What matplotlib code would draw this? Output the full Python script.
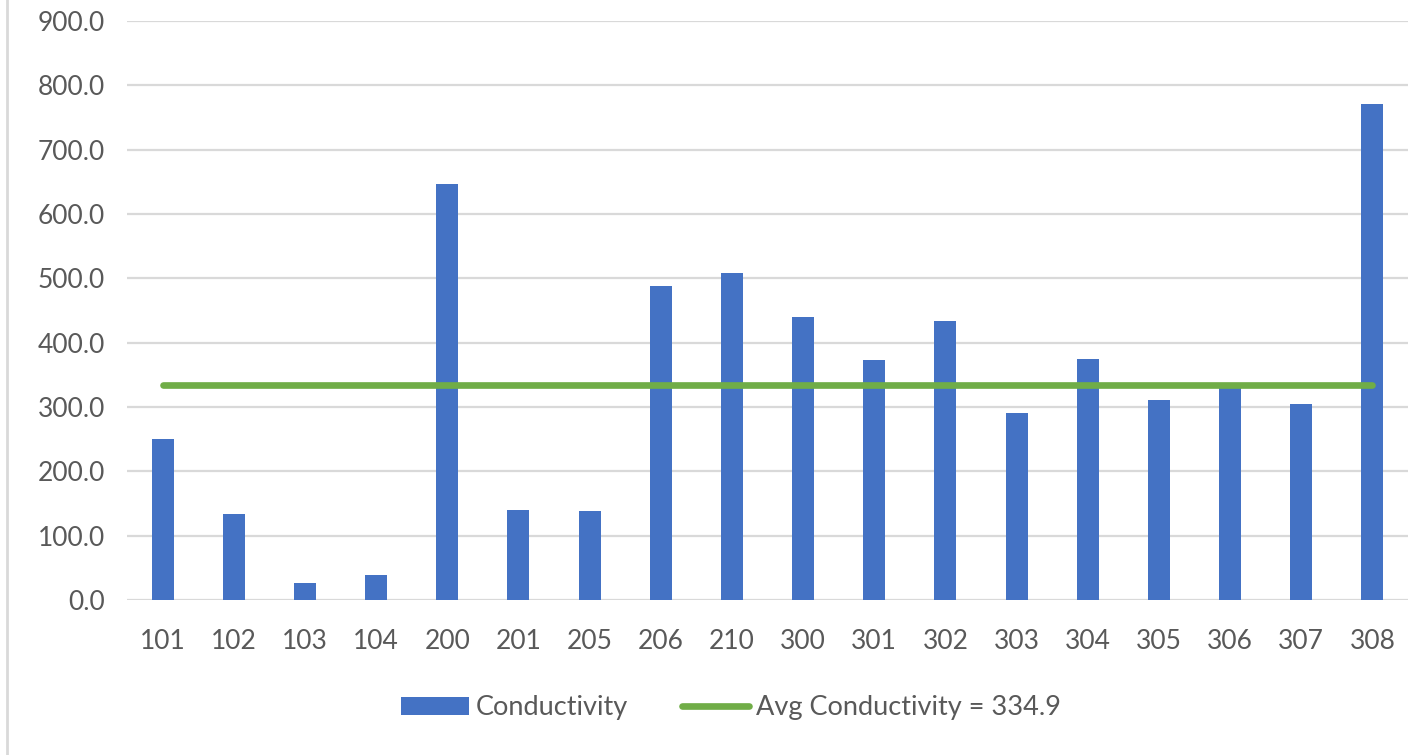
import matplotlib.pyplot as plt
import numpy as np
from matplotlib.lines import Line2D
from matplotlib.ticker import FormatStrFormatter

plt.rcParams['font.family'] = ['Lato', 'DejaVu Sans']

# room numbers and measured conductivity
rooms = ['101', '102', '103', '104', '200', '201', '205', '206', '210',
         '300', '301', '302', '303', '304', '305', '306', '307', '308']
conductivity = [250.3, 134.4, 27.1, 39.5, 647.3, 139.8, 137.7, 488.5, 508.8,
                439.6, 373.1, 434.4, 290.4, 375.0, 310.8, 334.0, 305.4, 770.5]
avg_conductivity = 334.9

W, H = 1413, 755
fig = plt.figure(figsize=(W / 100, H / 100), dpi=100)
ax = fig.add_axes([127 / W, 1 - 600 / H, (1408 - 127) / W, (600 - 21) / H])

x = np.arange(len(rooms))
bars = ax.bar(x, conductivity, width=0.31, color='#4472C4', label='Conductivity', zorder=2)
avg_line, = ax.plot([x[0], x[-1]], [avg_conductivity, avg_conductivity], color='#70AD47', lw=4.8,
                    solid_capstyle='round', label='Avg Conductivity = %.1f' % avg_conductivity, zorder=3)

ax.set_xlim(-0.5, len(rooms) - 0.5)
ax.set_ylim(0, 900)
ax.set_yticks(np.arange(0, 901, 100))
ax.yaxis.set_major_formatter(FormatStrFormatter('%.1f'))
ax.set_xticks(x)
ax.set_xticklabels(rooms)

ax.grid(axis='y', color='#d9d9d9', lw=1.6, zorder=0)
ax.set_axisbelow(True)
for s in ax.spines.values():
    s.set_visible(False)
ax.tick_params(axis='both', length=0, colors='#595959', labelsize=19)
ax.tick_params(axis='x', pad=21)
ax.tick_params(axis='y', pad=16)

fig.legend(handles=[bars, avg_line], loc='center', bbox_to_anchor=(731 / W, 1 - 708 / H), ncol=2,
           frameon=False, fontsize=19.5, labelcolor='#595959', handlelength=2.5, handleheight=0.6,
           handletextpad=0.25, columnspacing=2.0)

# chart frame edge on the left
fig.add_artist(Line2D([7 / W, 7 / W], [0, 1], transform=fig.transFigure, color='#d9d9d9', lw=2))

fig.savefig('out.png', dpi=100)
